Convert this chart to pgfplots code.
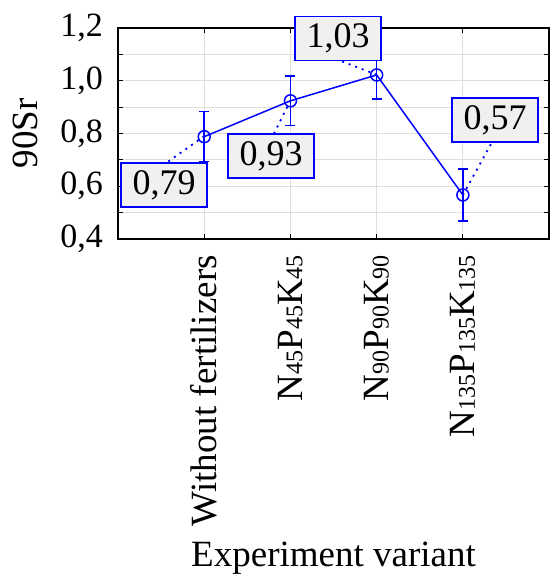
\documentclass[border=0pt]{standalone}
\usepackage{pgfplots}
\pgfplotsset{compat=1.18}
\usepackage{fontspec}
\setmainfont{Liberation Serif}
\definecolor{gridgray}{RGB}{222,222,222}
\definecolor{boxfill}{RGB}{240,240,240}
\definecolor{serblue}{RGB}{0,0,255}
\newcommand{\sub}[1]{{\fontsize{24}{26}\selectfont #1}}
\begin{document}
\begin{tikzpicture}
\begin{axis}[
  scale only axis,
  width=431pt, height=211pt,
  xmin=0, xmax=5, ymin=0.4, ymax=1.2,
  xtick={1,2,3,4},
  xticklabels={Without fertilizers,
    N\sub{45}P\sub{45}K\sub{45},
    N\sub{90}P\sub{90}K\sub{90},
    N\sub{135}P\sub{135}K\sub{135}},
  xticklabel style={rotate=90, anchor=east, inner sep=0pt,
    font=\fontsize{37}{40}\selectfont},
  xticklabel shift=16pt,
  ytick={0.4,0.6,0.8,1.0,1.2},
  minor ytick={0.5,0.7,0.9,1.1},
  yticklabel style={font=\fontsize{34}{38}\selectfont, inner sep=0pt,
    /pgf/number format/.cd, use comma, fixed, fixed zerofill, precision=1, assume math mode=true},
  yticklabel shift=15pt,
  grid=both,
  major grid style={gridgray, line width=1pt},
  minor grid style={gridgray, line width=1pt},
  tick align=inside,
  xtick pos=both, ytick pos=both,
  major tick length=5pt, minor tick length=5pt,
  tick style={black, line width=1pt},
  axis line style={line width=1.5pt},
  xlabel={Experiment variant},
  xlabel style={at={(axis description cs:0.5,-1.51)}, anchor=center},
  ylabel={90Sr},
  ylabel style={at={(axis description cs:-0.216,0.5)}, anchor=center},
  label style={font=\fontsize{37}{40}\selectfont},
  clip=false,
]
% dotted leader lines from points to value boxes
\addplot[serblue, line width=1.8pt, dash pattern=on 2pt off 5pt] coordinates {(1,0.79) (0.557,0.688)};
\addplot[serblue, line width=1.8pt, dash pattern=on 2pt off 5pt] coordinates {(2,0.925) (1.80,0.794)};
\addplot[serblue, line width=1.8pt, dash pattern=on 2pt off 5pt] coordinates {(3,1.023) (2.552,1.079)};
\addplot[serblue, line width=1.8pt, dash pattern=on 2pt off 5pt] coordinates {(4,0.567) (4.339,0.768)};
% means with error bars
\addplot[serblue, line width=1.5pt, mark=o, mark size=6pt,
  mark options={line width=1.5pt},
  error bars/.cd, y dir=both, y explicit,
  error bar style={line width=1.5pt},
  error mark options={rotate=90, mark size=5pt, line width=1.5pt}]
  coordinates {
    (1,0.788) +- (0,0.095)
    (2,0.924) +- (0,0.094)
    (3,1.022) +- (0,0.092)
    (4,0.567) +- (0,0.098)
  };
% value boxes
\tikzset{valbox/.style={draw=serblue, line width=1.8pt, fill=boxfill,
  minimum width=86pt, minimum height=44pt, inner sep=0pt,
  font=\fontsize{36}{40}\selectfont}}
\node[valbox] at (axis cs:0.534,0.605) {0,79};
\node[valbox] at (axis cs:1.775,0.715) {0,93};
\node[valbox] at (axis cs:2.552,1.160) {1,03};
\node[valbox] at (axis cs:4.374,0.851) {0,57};
% page extent as in the reference
\path (axis description cs:-0.2738,1.1327) (axis description cs:1.0046,-1.611);
\end{axis}
\end{tikzpicture}
\end{document}
